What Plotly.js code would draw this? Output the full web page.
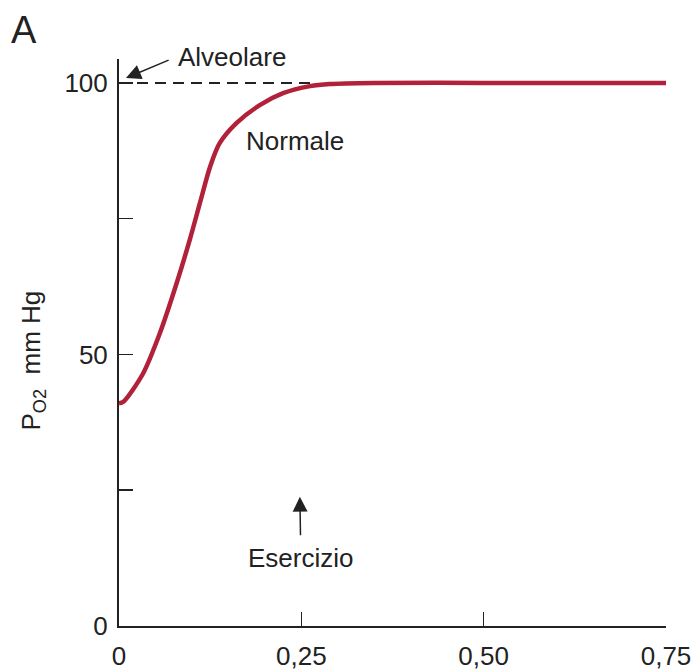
<!DOCTYPE html>
<html>
<head>
<meta charset="utf-8">
<script src="https://cdn.plot.ly/plotly-3.0.1.min.js"></script>
<style>html,body{margin:0;padding:0;background:#fff;}#chart{width:695px;height:670px;}</style>
</head>
<body>
<div id="chart"></div>
<script>
// Time in capillary (s) and PO2 (mm Hg)
var timeS = [0, 0.006, 0.033, 0.056, 0.079, 0.097, 0.111, 0.125, 0.138, 0.161, 0.193, 0.225, 0.262, 0.289, 0.35, 0.5, 0.75];
var po2Normal = [41, 41.3, 46.5, 53.9, 63.1, 71.1, 77.9, 84.6, 88.9, 92.6, 95.9, 98.1, 99.4, 99.8, 100, 100, 100];
var alveolarX = [0, 0.27];
var alveolarY = [100, 100];
var xTickVals = [0, 0.25, 0.5, 0.75];
var xTickText = ['0', '0,25', '0,50', '0,75'];
var yTickVals = [0, 50, 100];
var yTickText = ['0', '50', '100'];
var yMinorTickVals = [25, 75];
// annotation anchors (data units): arrow heads
var alveolarArrowHead = [0.0096, 100.9];
var exerciseArrowHead = [0.248, 23.8];

var font = 'Liberation Sans, Arial, sans-serif';
var txt = '#222';

var traces = [
  {x: alveolarX, y: alveolarY, mode: 'lines', line: {color: '#222', width: 2, dash: '11px,7px'}, hoverinfo: 'skip', showlegend: false},
  {x: timeS, y: po2Normal, mode: 'lines', line: {color: '#b2213a', width: 4.5, shape: 'spline', smoothing: 0.8}, showlegend: false}
];

var layout = {
  width: 695, height: 670,
  margin: {l: 119, r: 29, t: 59, b: 44},
  paper_bgcolor: '#fff', plot_bgcolor: '#fff',
  font: {family: font, size: 26, color: txt},
  xaxis: {
    range: [0, 0.75], showgrid: false, zeroline: false,
    showline: true, linecolor: '#222', linewidth: 2,
    ticks: 'inside', ticklen: 14, tickwidth: 1.5, tickcolor: '#222',
    tickvals: xTickVals, ticktext: xTickText,
    tickfont: {family: font, size: 26, color: txt},
    ticklabelstandoff: 6
  },
  yaxis: {
    range: [0, 104.4], showgrid: false, zeroline: false,
    showline: true, linecolor: '#222', linewidth: 2,
    ticks: 'inside', ticklen: 14, tickwidth: 1.5, tickcolor: '#222',
    tickvals: yTickVals, ticktext: yTickText,
    minor: {tickvals: yMinorTickVals, ticks: 'inside', ticklen: 14, tickwidth: 1.5, tickcolor: '#222', showgrid: false},
    tickfont: {family: font, size: 26, color: txt},
    ticklabelstandoff: 4
  },
  annotations: [
    {xref: 'paper', yref: 'paper', x: -0.201, y: 1.0917, xanchor: 'left', yanchor: 'top', text: 'A', showarrow: false, font: {size: 38, color: txt, family: font}},
    {x: alveolarArrowHead[0], y: alveolarArrowHead[1], ax: 50, ay: -21, xanchor: 'left', yanchor: 'middle',
     text: 'Alveolare', showarrow: true, arrowhead: 2, arrowsize: 2, arrowwidth: 1.5, arrowcolor: '#222', startstandoff: 8,
     font: {size: 26, color: txt, family: font}},
    {x: 0.2407, y: 89.3, text: 'Normale', showarrow: false, font: {size: 26, color: txt, family: font}},
    {x: exerciseArrowHead[0], y: exerciseArrowHead[1], ax: 1, ay: 61, xanchor: 'center', yanchor: 'middle',
     text: 'Esercizio', showarrow: true, arrowhead: 2, arrowsize: 2, arrowwidth: 1.5, arrowcolor: '#222', startstandoff: 6,
     font: {size: 26, color: txt, family: font}},
    {xref: 'paper', yref: 'paper', x: -0.192, y: 0.469, xanchor: 'left', yanchor: 'middle', text: 'P<sub>O2</sub>  mm Hg', textangle: -90, showarrow: false, font: {size: 26, color: txt, family: font}}
  ]
};

Plotly.newPlot('chart', traces, layout, {displayModeBar: false, staticPlot: true});
</script>
</body>
</html>
